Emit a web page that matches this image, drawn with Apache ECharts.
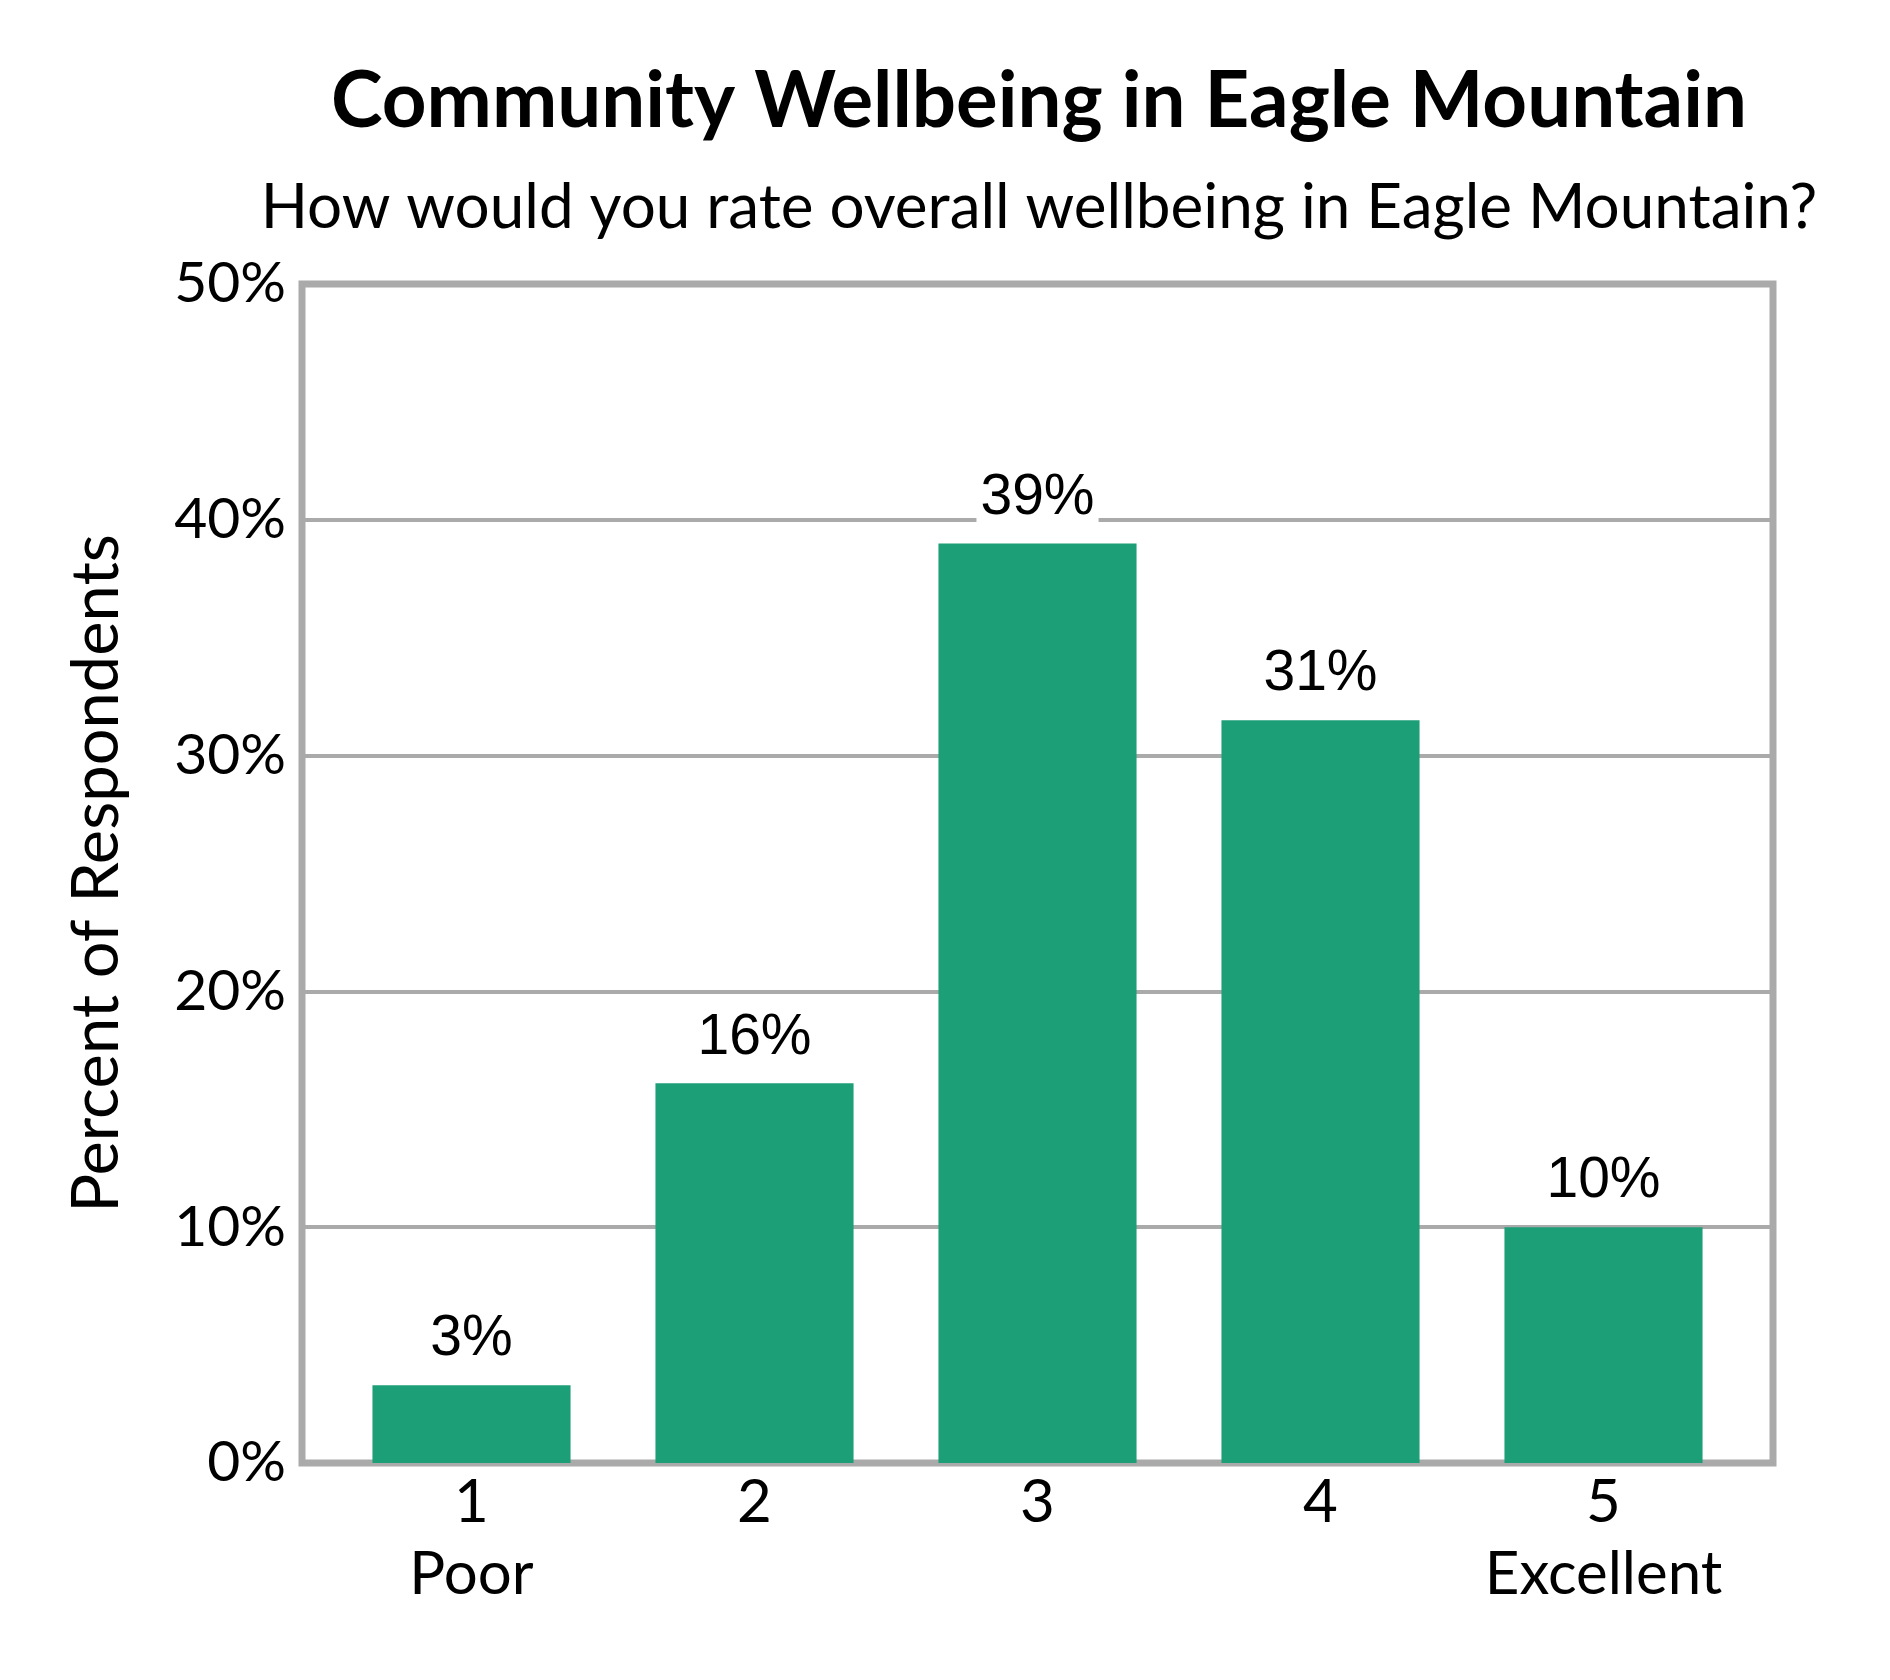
<!DOCTYPE html>
<html>
<head>
<meta charset="utf-8">
<script src="https://cdn.jsdelivr.net/npm/echarts@6/dist/echarts.min.js"></script>
<style>
  html, body { margin: 0; padding: 0; background: #fff; }
  #chart { width: 1890px; height: 1680px; }
</style>
</head>
<body>
<div id="chart"></div>
<script>
// data
var categories = ['1\nPoor', '2', '3', '4', '5\nExcellent'];
var percents = [3.3, 16.1, 39.0, 31.5, 10.0];
var barLabels = ['3%', '16%', '39%', '31%', '10%'];
var yTicks = [0, 10, 20, 30, 40, 50];

var titleText = 'Community Wellbeing in Eagle Mountain';
var subText = 'How would you rate overall wellbeing in Eagle Mountain?';

var calibriLike = 'Lato, "Open Sans", sans-serif';
var arialLike = '"Liberation Sans", Arial, sans-serif';

var myChart = echarts.init(document.getElementById('chart'));

// outer frame (grid 0) and a slightly narrower grid for the bars (grid 1)
var frame = { left: 302, right: 117, top: 284, bottom: 217 };
var inset = 28;

var option = {
  backgroundColor: '#ffffff',
  animation: false,
  title: [{
    text: titleText,
    left: 1039,
    top: 63,
    padding: 0,
    textAlign: 'center',
    textStyle: { fontFamily: calibriLike, fontWeight: 'bold', fontSize: 78, color: '#000' }
  }, {
    text: subText,
    left: 1039,
    top: 177,
    padding: 0,
    textAlign: 'center',
    textStyle: { fontFamily: calibriLike, fontWeight: 'normal', fontSize: 62, color: '#000' }
  }],
  grid: [{
    left: frame.left,
    right: frame.right,
    top: frame.top,
    bottom: frame.bottom,
    show: true,
    borderColor: '#aaaaaa',
    borderWidth: 7
  }, {
    left: frame.left + inset,
    right: frame.right + inset,
    top: frame.top,
    bottom: frame.bottom
  }],
  xAxis: [{
    gridIndex: 0,
    type: 'category',
    data: categories,
    show: false
  }, {
    gridIndex: 1,
    type: 'category',
    data: categories,
    axisLine: { show: false },
    axisTick: { show: false },
    axisLabel: {
      interval: 0,
      margin: 4,
      fontFamily: calibriLike,
      fontSize: 60,
      lineHeight: 72,
      color: '#000'
    }
  }],
  yAxis: [{
    gridIndex: 0,
    type: 'value',
    min: yTicks[0],
    max: yTicks[yTicks.length - 1],
    interval: 10,
    name: 'Percent of Respondents',
    nameLocation: 'middle',
    nameGap: 172,
    nameTextStyle: { fontFamily: calibriLike, fontSize: 65, color: '#000' },
    axisLine: { show: false },
    axisTick: { show: false },
    axisLabel: {
      margin: 16,
      fontFamily: calibriLike,
      fontSize: 57,
      color: '#000',
      formatter: '{value}%'
    },
    splitLine: { show: true, lineStyle: { color: '#aaaaaa', width: 4 } }
  }, {
    gridIndex: 1,
    type: 'value',
    min: yTicks[0],
    max: yTicks[yTicks.length - 1],
    interval: 10,
    show: false,
    splitLine: { show: false }
  }],
  series: [{
    type: 'bar',
    xAxisIndex: 1,
    yAxisIndex: 1,
    data: percents,
    barCategoryGap: '30%',
    itemStyle: { color: '#1c9e77' },
    label: {
      show: true,
      position: 'top',
      distance: 17,
      fontFamily: arialLike,
      fontSize: 57,
      color: '#000',
      backgroundColor: '#ffffff',
      padding: [0, 4],
      formatter: function (p) { return barLabels[p.dataIndex]; }
    }
  }]
};

myChart.setOption(option);
</script>
</body>
</html>
